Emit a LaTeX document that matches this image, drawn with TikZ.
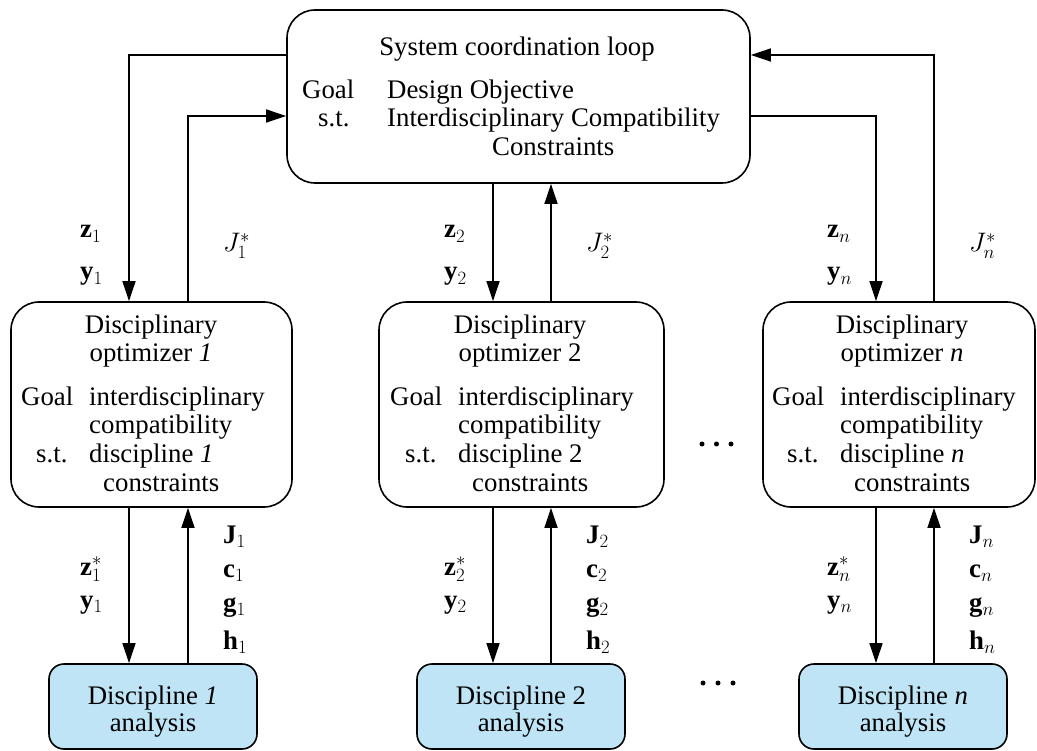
\documentclass[tikz,border=0pt]{standalone}
\usepackage{fix-cm}
\usepackage{fontspec}
\setmainfont{Liberation Serif}
\usetikzlibrary{arrows.meta}
\definecolor{discblue}{RGB}{190,228,246}
\tikzset{
  box/.style={draw, line width=1.6pt, rounded corners=28pt, inner sep=0pt, rectangle},
  discbox/.style={draw, line width=1.6pt, rounded corners=15pt, inner sep=0pt, fill=discblue, minimum width=208pt, minimum height=85pt},
  arr/.style={line width=1.4pt, -{Triangle[length=20pt,width=13pt]}},
  tl/.style={inner sep=0pt, anchor=base west},
  tc/.style={inner sep=0pt, anchor=base},
  dot/.style={fill=black, draw=none, circle, inner sep=0pt, minimum size=5pt}
}
\begin{document}
\begin{tikzpicture}[x=1pt,y=-1pt,font=\fontsize{26.8}{30}\selectfont]
\useasboundingbox (0,0) rectangle (1037,751);
% boxes
\node[box, minimum width=463pt, minimum height=173pt] (sys) at (518.5,96.5) {};
\node[box, minimum width=281pt, minimum height=205pt] (opt1) at (151.5,404.5) {};
\node[box, minimum width=285pt, minimum height=205pt] (opt2) at (521.5,404.5) {};
\node[box, minimum width=272pt, minimum height=205pt] (optn) at (899,404.5) {};
\node[discbox] (dis1) at (153,706.5) {};
\node[discbox] (dis2) at (521,706.5) {};
\node[discbox] (disn) at (903,706.5) {};
% system text
\node[tc] (st) at (517,56) {System coordination loop};
\node[tl] (sg) at (302,99) {Goal};
\node[tl] (sgo) at (387,99) {Design Objective};
\node[tl] (sst) at (318,127) {s.t.};
\node[tl] (ssto) at (387,127) {Interdisciplinary Compatibility};
\node[tl] (sstc) at (492,156) {Constraints};
% optimizer texts
\foreach \n/\t/\lab in {1/144/\textit{1}, 2/513/2, n/895/\textit{n}}{
  \node[tc] (o\n a) at (\t+7,334) {Disciplinary};
  \node[tc] (o\n b) at (\t+7,362) {optimizer \lab};
  \node[tl] (o\n c) at (\t-123,406) {Goal};
  \node[tl] (o\n d) at (\t-55,406) {interdisciplinary};
  \node[tl] (o\n e) at (\t-55,434) {compatibility};
  \node[tl] (o\n f) at (\t-108,462) {s.t.};
  \node[tl] (o\n g) at (\t-55,462) {discipline \lab};
  \node[tl] (o\n h) at (\t-41,491) {constraints};
}
% discipline texts
\node[tc] (d1a) at (153,704) {Discipline \textit{1}};
\node[tc] (d1b) at (153,731) {analysis};
\node[tc] (d2a) at (521,704) {Discipline 2};
\node[tc] (d2b) at (521,731) {analysis};
\node[tc] (dna) at (903,704) {Discipline \textit{n}};
\node[tc] (dnb) at (903,731) {analysis};
% arrow positions
\coordinate (x1d) at (129,0); \coordinate (x1u) at (188,0);
\coordinate (x2d) at (493,0); \coordinate (x2u) at (551,0);
\coordinate (xnd) at (876,0); \coordinate (xnu) at (934,0);
\coordinate (yA) at (0,55); \coordinate (yB) at (0,116);
% connectors top
\draw[arr] (sys.west |- yA) -| (opt1.north -| x1d);
\draw[arr] (opt1.north -| x1u) |- (sys.west |- yB);
\draw[arr] (sys.south -| x2d) -- (opt2.north -| x2d);
\draw[arr] (opt2.north -| x2u) -- (sys.south -| x2u);
\draw[arr] (sys.east |- yB) -| (optn.north -| xnd);
\draw[arr] (optn.north -| xnu) |- (sys.east |- yA);
% connectors bottom
\draw[arr] (opt1.south -| x1d) -- (dis1.north -| x1d);
\draw[arr] (dis1.north -| x1u) -- (opt1.south -| x1u);
\draw[arr] (opt2.south -| x2d) -- (dis2.north -| x2d);
\draw[arr] (dis2.north -| x2u) -- (opt2.south -| x2u);
\draw[arr] (optn.south -| xnd) -- (disn.north -| xnd);
\draw[arr] (disn.north -| xnu) -- (optn.south -| xnu);
% labels
\foreach \n/\d/\u in {1/129/188, 2/493/551, n/876/934}{
  \node[tl] (lz\n) at (\d-49,238) {$\mathbf{z}_{\n}$};
  \node[tl] (ly\n) at (\d-49,280) {$\mathbf{y}_{\n}$};
  \node[tl] (lJs\n) at (\u+35,252) {$J_{\n}^{*}$};
  \node[tl] (lzs\n) at (\d-49,575) {$\mathbf{z}_{\n}^{*}$};
  \node[tl] (lys\n) at (\d-49,608) {$\mathbf{y}_{\n}$};
  \node[tl] (lJ\n) at (\u+35,543) {$\mathbf{J}_{\n}$};
  \node[tl] (lc\n) at (\u+35,577) {$\mathbf{c}_{\n}$};
  \node[tl] (lg\n) at (\u+35,611) {$\mathbf{g}_{\n}$};
  \node[tl] (lh\n) at (\u+35,649) {$\mathbf{h}_{\n}$};
}
% dots
\foreach \x in {702,716.5,731}{\node[dot] at (\x,444) {};}
\foreach \x in {703,718,733}{\node[dot] at (\x,683) {};}
\end{tikzpicture}
\end{document}
